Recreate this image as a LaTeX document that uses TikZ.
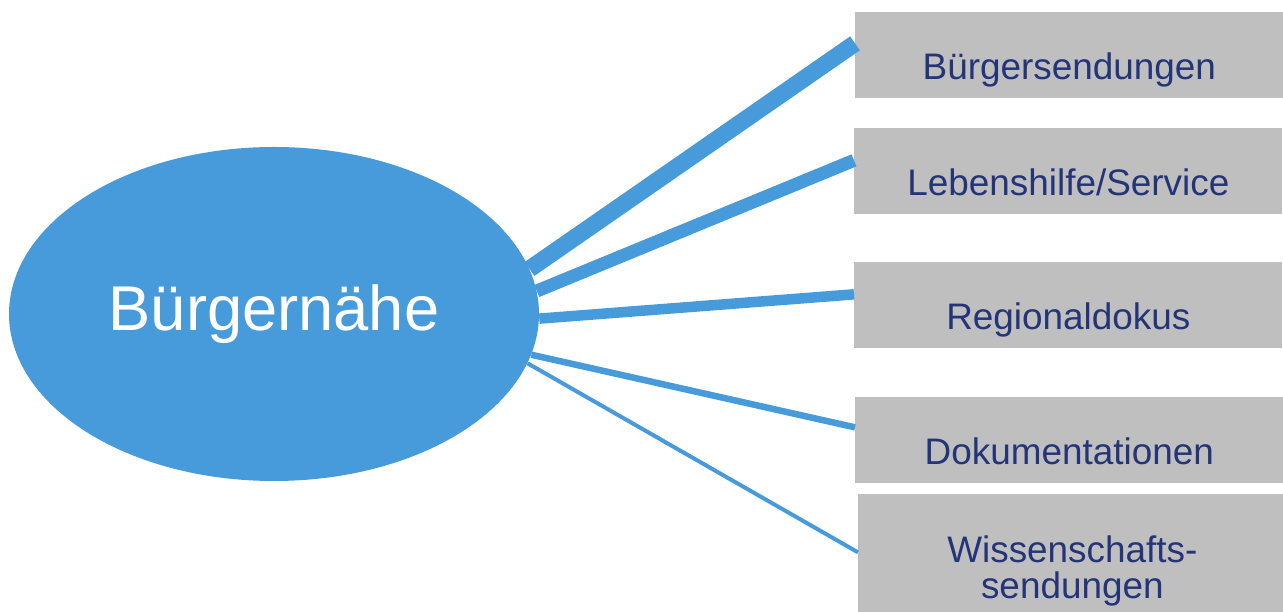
\documentclass[tikz,border=0pt]{standalone}
\usepackage{fontspec}
\setmainfont{Liberation Sans}
\usetikzlibrary{shapes.geometric}

\definecolor{hubblue}{RGB}{71,155,219}
\definecolor{boxgray}{RGB}{191,191,191}
\definecolor{textnavy}{RGB}{35,52,120}

\tikzset{
  item/.style={fill=boxgray, text=textnavy, anchor=north west,
    minimum width=8.56cm, minimum height=1.72cm, inner sep=0pt,
    text height=0.96cm, text depth=0pt,
    font=\fontsize{21}{20.5}\selectfont},
  link/.style={draw=hubblue}
}

\begin{document}
\begin{tikzpicture}
\useasboundingbox (0,0) rectangle (25.66,12.24);
\node[ellipse, fill=hubblue, inner sep=0pt, minimum width=10.6cm,
  minimum height=6.68cm, text=white, font=\fontsize{36}{40}\selectfont]
  (hub) at (5.48,5.96) {Bürgernähe};
\node[item] (b1) at (17.10,12.00) {Bürgersendungen};
\node[item] (b2) at (17.08,9.68) {Lebenshilfe/Service};
\node[item] (b3) at (17.08,7.00) {Regionaldokus};
\node[item] (b4) at (17.10,4.30) {Dokumentationen};
\node[item, minimum height=2.8cm, align=center, text height=1.76cm,
  text depth=0.4cm] (b5) at (17.16,2.36) {Wissenschafts-\\sendungen};
% spokes get thinner from top to bottom
\draw[link, line width=0.34cm] (hub.10.4) -- ([yshift=2.4mm]b1.west);
\draw[link, line width=0.26cm] (hub.5.6) -- ([yshift=2.2mm]b2.west);
\draw[link, line width=0.21cm] (hub.-1.9) -- ([yshift=2.2mm]b3.west);
\draw[link, line width=0.13cm] (hub.-9) -- ([yshift=2.6mm]b4.west);
\draw[link, line width=0.08cm] (hub.-11.9) -- ([yshift=2.4mm]b5.west);
\end{tikzpicture}
\end{document}
